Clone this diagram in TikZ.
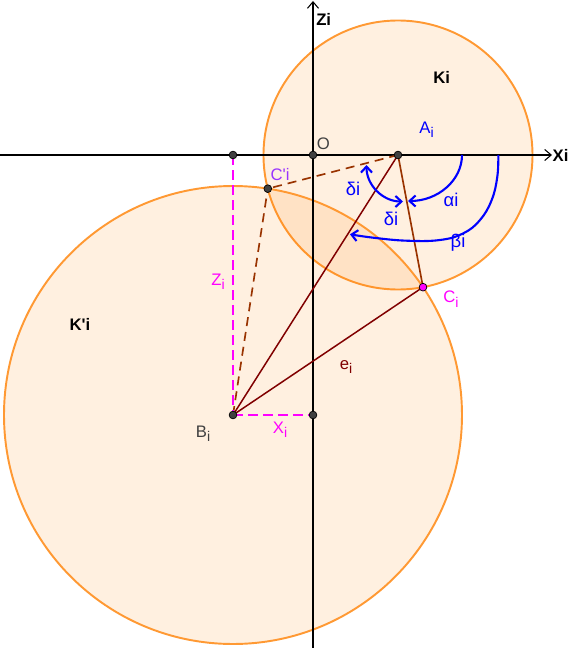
\documentclass[tikz,border=0pt]{standalone}
\usepackage{fontspec}
\setmainfont{Liberation Sans}
\newfontfamily\kbfont{Liberation Sans}
\usetikzlibrary{arrows.meta}
\definecolor{kbOrange}{RGB}{255,153,51}
\definecolor{kbBrown}{RGB}{153,51,0}
\definecolor{kbMaroon}{RGB}{128,0,0}
\definecolor{kbMagenta}{RGB}{255,0,255}
\definecolor{kbViolet}{RGB}{153,51,255}
\definecolor{kbBlue}{RGB}{0,0,255}
\definecolor{kbGray}{RGB}{64,64,64}
\newcommand{\kbsub}[1]{\raisebox{-0.5ex}{\fontsize{8}{9}\selectfont #1}}
\tikzset{
  kbcircle/.style={draw=kbOrange, line width=1.1pt, fill=orange, fill opacity=0.12},
  kbaxis/.style={-{Straight Barb[length=1.3mm, width=2.2mm]}, line width=0.6pt, draw=black},
  kbseg/.style={line width=0.85pt, draw=kbMaroon},
  kbsegb/.style={line width=0.95pt, draw=kbBrown},
  kbdash/.style={kbsegb, dash pattern=on 1.8mm off 1.2mm},
  kbproj/.style={line width=1.1pt, draw=kbMagenta, dash pattern=on 2mm off 1mm},
  kbangle/.style={line width=1.2pt, draw=kbBlue, arrows={Straight Barb[length=1.2mm, width=2.2mm]-Straight Barb[length=1.2mm, width=2.2mm]}},
  kbdot/.style={circle, draw=black, line width=0.4pt, fill=kbGray, inner sep=0pt, minimum size=4.4pt},
  kblabel/.style={inner sep=0pt, font=\kbfont\fontsize{9.5}{11}\selectfont},
  kbgreek/.style={inner sep=0pt, text=kbBlue, font=\kbfont\fontsize{10.5}{12}\selectfont},
  kbbold/.style={inner sep=0pt, font=\kbfont\fontsize{9.5}{11}\selectfont\bfseries}
}

\begin{document}
\begin{tikzpicture}
  \useasboundingbox (-6.26,-9.86) rectangle (5.14,3.10);
  % points
  \coordinate (O) at (0,0);
  \coordinate (A) at (1.70,0);
  \coordinate (B) at (-1.60,-5.20);
  \coordinate (C) at (2.20,-2.643);
  \coordinate (Cp) at (-0.904,-0.673);
  \coordinate (Bz) at (-1.60,0);
  \coordinate (Bx) at (0,-5.20);
  \coordinate (xw) at (-6.26,0);
  \coordinate (xe) at (4.78,0);
  \coordinate (zs) at (0,-9.86);
  \coordinate (zn) at (0,3.08);
  % circles
  \path[kbcircle] (A) circle[radius=2.69];
  \path[kbcircle] (B) circle[radius=4.58];
  % axes
  \draw[kbaxis] (xw) -- (xe);
  \draw[kbaxis] (zs) -- (zn);
  % segments
  \draw[kbseg] (A) -- (B);
  \draw[kbseg] (B) -- (C);
  \draw[kbsegb] (A) -- (C);
  \draw[kbdash] (A) -- (Cp);
  \draw[kbdash] (B) -- (Cp);
  \draw[kbproj] (Bz) -- (B);
  \draw[kbproj] (B) -- (Bx);
  % angles
  \coordinate (aS) at (2.98,0);
  \coordinate (dS) at (1.07,-0.20);
  \draw[kbangle, arrows=-{Straight Barb[length=1.2mm, width=2.2mm]}] (aS) arc[start angle=0, end angle=-90, x radius=1.08, y radius=0.92];
  \draw[kbangle] (dS) arc[start angle=180, end angle=270, radius=0.73];
  \draw[kbangle, arrows=-{Straight Barb[length=1.2mm, width=2.2mm]}] plot[smooth, tension=0.7] coordinates {(3.706,0) (3.686,-0.434) (3.574,-0.9) (3.34,-1.3) (3.006,-1.566) (2.54,-1.7) (1.874,-1.714) (1.206,-1.654) (0.74,-1.586)};
  % dots
  \node[kbdot] (dO) at (O) {};
  \node[kbdot] (dA) at (A) {};
  \node[kbdot] (dB) at (B) {};
  \node[kbdot] (dCp) at (Cp) {};
  \node[kbdot] (dBz) at (Bz) {};
  \node[kbdot] (dBx) at (Bx) {};
  \node[kbdot, fill=kbMagenta] (dC) at (C) {};
  % labels
  \node[kbbold] (lX) at (4.95,0) {Xi};
  \node[kbbold] (lZ) at (0.214,2.716) {Zi};
  \node[kbbold] (lK) at (2.574,1.546) {Ki};
  \node[kbbold] (lKp) at (-4.66,-3.39) {K'i};
  \node[kblabel, text=kbGray] (lO) at (0.206,0.234) {O};
  \node[kblabel, text=kbBlue] (lA) at (2.27,0.50) {A\kbsub{i}};
  \node[kblabel, text=kbViolet] (lCp) at (-0.66,-0.39) {C'i};
  \node[kblabel, text=kbMagenta] (lC) at (2.76,-2.88) {C\kbsub{i}};
  \node[kblabel, text=kbMagenta] (lZi) at (-1.90,-2.53) {Z\kbsub{i}};
  \node[kblabel, text=kbMagenta] (lXi) at (-0.66,-5.50) {X\kbsub{i}};
  \node[kblabel, text=kbGray] (lB) at (-2.20,-5.58) {B\kbsub{i}};
  \node[kblabel, text=kbMaroon] (le) at (0.66,-4.24) {e\kbsub{i}};
  \node[kbgreek] (ld1) at (0.80,-0.67) {δi};
  \node[kbgreek] (ld2) at (1.56,-1.27) {δi};
  \node[kbgreek] (la) at (2.76,-0.908) {αi};
  \node[kbgreek] (lb) at (2.90,-1.76) {βi};
\end{tikzpicture}
\end{document}
